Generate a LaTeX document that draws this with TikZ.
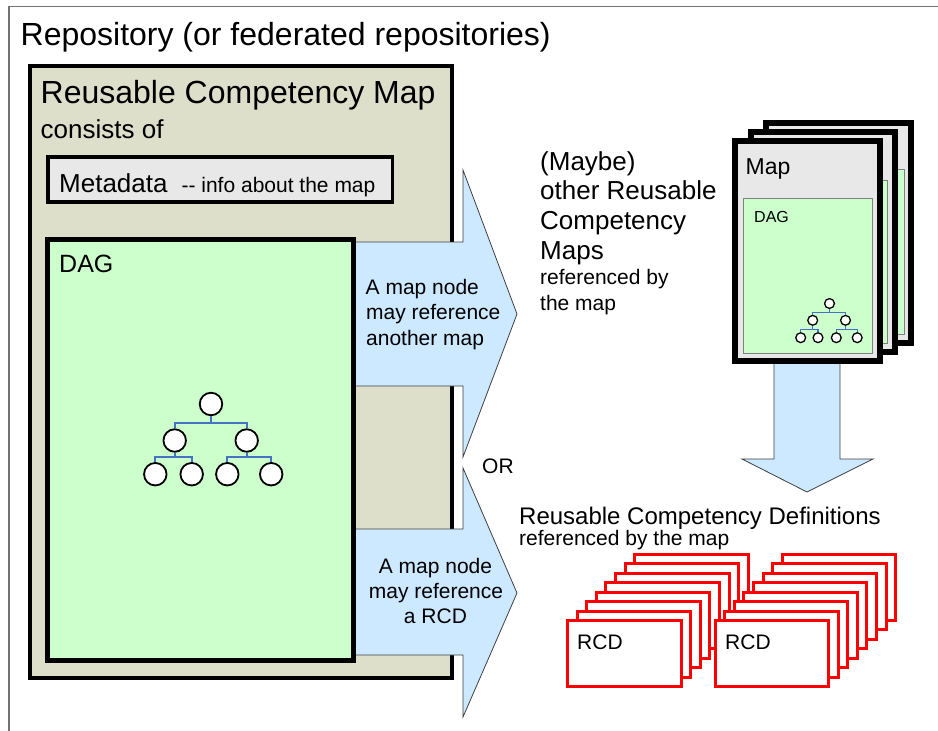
\documentclass[tikz,border=0pt]{standalone}
\usepackage{fontspec}
\setmainfont{Liberation Sans}
\definecolor{rcmfill}{RGB}{221,223,203}
\definecolor{dagfill}{RGB}{204,255,204}
\definecolor{arrfill}{RGB}{204,233,255}
\definecolor{metafill}{RGB}{232,232,232}
\definecolor{treeblue}{RGB}{70,114,196}
\definecolor{rcdred}{RGB}{255,0,0}
\begin{document}
\begin{tikzpicture}[x=1pt,y=-1pt,
  lbl/.style={inner sep=0pt, anchor=base west},
  clbl/.style={inner sep=0pt, anchor=base},
  fbig/.style={font=\fontsize{32}{38}\selectfont},
  fmid/.style={font=\fontsize{26}{30}\selectfont},
  fsmall/.style={font=\fontsize{21}{25}\selectfont},
  box/.style={draw, rectangle, inner sep=0pt, outer sep=0pt, anchor=north west},
  bigarrow/.style={fill=arrfill, draw=black!75, line width=0.8pt, line join=miter},
  tnode/.style={circle, draw, fill=white, inner sep=0pt, minimum size=22.5pt, line width=1.8pt},
  snode/.style={circle, draw, fill=white, inner sep=0pt, minimum size=9.8pt, line width=1.3pt},
  tline/.style={draw=treeblue, line width=2pt},
  sline/.style={draw=treeblue, line width=1.2pt},
  mapcard/.style={box, fill=metafill, line width=6pt, minimum width=145pt, minimum height=220pt},
  innerdag/.style={box, fill=dagfill, draw=black!50, line width=0.8pt},
  rcdcard/.style={box, fill=white, draw=rcdred, line width=3pt, minimum width=113.5pt, minimum height=66pt},
]
\useasboundingbox (0,0) rectangle (938,731);
\fill[white] (0,0) rectangle (938,731);
% outer repository frame
\draw[black!55, line width=1.5pt] (9.2,745) -- (9.2,6.7) -- (950,6.7);
\node[lbl, fbig] (title) at (20.5,45) {Repository (or federated repositories)};

% reusable competency map box
\node[box, fill=rcmfill, line width=4pt, minimum width=421.5pt, minimum height=612pt] (rcm) at (30,66) {};
\node[lbl, fbig] (rcmtitle) at (40.5,103) {Reusable Competency Map};
\node[lbl, fmid] (consists) at (40.5,138) {consists of};
\node[box, fill=metafill, line width=3.5pt, minimum width=344.5pt, minimum height=45pt] (meta) at (48,157) {};
\node[lbl, fmid] (metatext) at (59,192.5) {Metadata\hspace{14pt}{\fontsize{21}{25}\selectfont -{}- info about the map}};

% block arrows to the right
\draw[bigarrow] (345,242) -- (463,242) -- (463,170) -- (517,314) -- (463,457) -- (463,386) -- (345,386) -- cycle;
\draw[bigarrow] (345,529) -- (463,529) -- (463,468) -- (517,593) -- (463,717) -- (463,655) -- (345,655) -- cycle;

% DAG box
\node[box, fill=dagfill, line width=5pt, minimum width=306.5pt, minimum height=421pt] (dag) at (47,239) {};
\node[lbl, font=\fontsize{25}{30}\selectfont] (dagtitle) at (59,272) {DAG};

% big tree
\node[tnode] (t0) at (211,404) {};
\node[tnode] (t1) at (174.7,440.5) {};
\node[tnode] (t2) at (246.7,440.5) {};
\node[tnode] (t3) at (155.3,474.2) {};
\node[tnode] (t4) at (191.7,474.2) {};
\node[tnode] (t5) at (227.3,474.2) {};
\node[tnode] (t6) at (271.2,474.2) {};
\coordinate (tb0) at (211,422.7);
\coordinate (tb1) at (174.7,457.3);
\coordinate (tb2) at (246.7,457.3);
\draw[tline] (t0.south) -- (tb0);
\draw[tline] (t1.north) |- (tb0) -| (t2.north);
\draw[tline] (t1.south) -- (tb1);
\draw[tline] (t3.north) |- (tb1) -| (t4.north);
\draw[tline] (t2.south) -- (tb2);
\draw[tline] (t5.north) |- (tb2) -| (t6.north);

% arrow labels
\node[lbl, fsmall] (a1l1) at (365.5,294) {A map node};
\node[lbl, fsmall] (a1l2) at (366,319.5) {may reference};
\node[lbl, fsmall] (a1l3) at (366,345) {another map};
\node[clbl, fsmall] (a2l1) at (435.5,573) {A map node};
\node[clbl, fsmall] (a2l2) at (436,598) {may reference};
\node[clbl, fsmall] (a2l3) at (435.5,623) {a RCD};
\node[lbl, fsmall] (or) at (482,473) {OR};

% other maps text
\node[lbl, fmid] (om1) at (540,170) {(Maybe)};
\node[lbl, fmid] (om2) at (540,199.5) {other Reusable};
\node[lbl, fmid] (om3) at (540,229.5) {Competency};
\node[lbl, fmid] (om4) at (540,259) {Maps};
\node[lbl, fsmall] (om5) at (540,284) {referenced by};
\node[lbl, fsmall] (om6) at (540,310) {the map};

% down arrow
\draw[bigarrow] (774,350) -- (774,459) -- (742,459) -- (807,492) -- (873,459) -- (840,459) -- (840,350) -- cycle;

% stack of maps
\node[mapcard] (card3) at (765.5,122.5) {};
\node[innerdag, minimum width=130.5pt, minimum height=165.5pt] (dag3) at (773.5,169) {};
\node[mapcard, minimum width=144.5pt] (card2) at (750.5,131.5) {};
\node[innerdag, minimum width=128.5pt, minimum height=163.5pt] (dag2) at (758.5,180) {};
\node[mapcard] (card1) at (735,141) {};
\node[innerdag, minimum width=129pt, minimum height=155pt] (dag1) at (743,198) {};
\node[lbl, font=\fontsize{23}{28}\selectfont] (maptext) at (745.5,174) {Map};
\node[lbl, font=\fontsize{16}{19}\selectfont] (dagsmall) at (754,222.5) {DAG};

% small tree
\node[snode] (s0) at (829.5,303.5) {};
\node[snode] (s1) at (812.7,320.3) {};
\node[snode] (s2) at (845.5,320.3) {};
\node[snode] (s3) at (800.7,337.7) {};
\node[snode] (s4) at (818,337.7) {};
\node[snode] (s5) at (836.3,337.7) {};
\node[snode] (s6) at (857.2,337.7) {};
\coordinate (sb0) at (829.5,312.3);
\coordinate (sb1) at (812.7,329.3);
\coordinate (sb2) at (845.5,329.3);
\draw[sline] (s0.south) -- (sb0);
\draw[sline] (s1.north) |- (sb0) -| (s2.north);
\draw[sline] (s1.south) -- (sb1);
\draw[sline] (s3.north) |- (sb1) -| (s4.north);
\draw[sline] (s2.south) -- (sb2);
\draw[sline] (s5.north) |- (sb2) -| (s6.north);

% RCD text
\node[lbl, font=\fontsize{24}{29}\selectfont] (rcdt1) at (519,524.5) {Reusable Competency Definitions};
\node[lbl, fsmall] (rcdt2) at (519,545) {referenced by the map};

% RCD stacks
\foreach \k in {7,6,...,0} {
  \node[rcdcard] (L\k) at ({567.5+9.6*\k},{620.5-9.5*\k}) {};
}
\foreach \k in {7,6,...,0} {
  \node[rcdcard] (R\k) at ({715+9.6*\k},{620.5-9.5*\k}) {};
}
\node[lbl, fsmall] (rcdL) at (577,649) {RCD};
\node[lbl, fsmall] (rcdR) at (725,649) {RCD};
\end{tikzpicture}
\end{document}
